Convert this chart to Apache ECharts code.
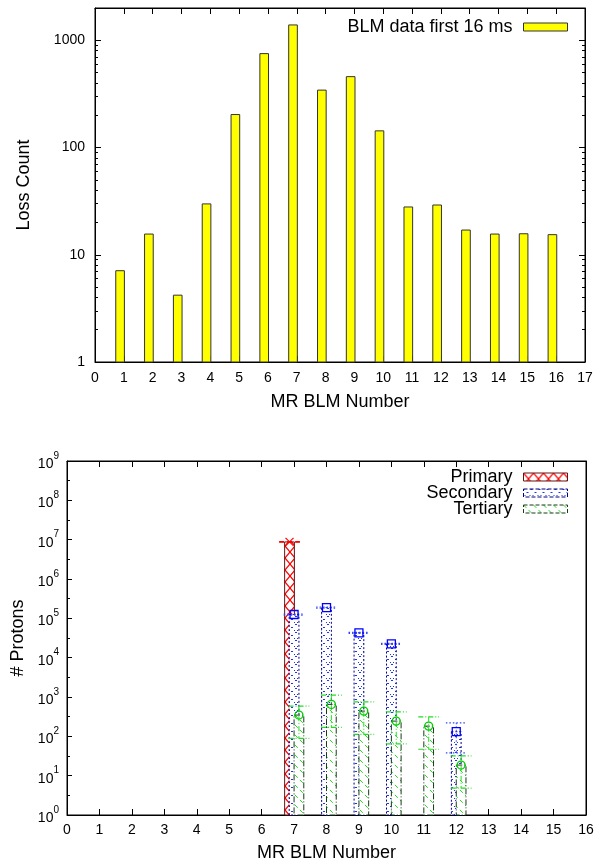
<!DOCTYPE html>
<html><head><meta charset="utf-8">
<script src="https://cdn.jsdelivr.net/npm/echarts@6/dist/echarts.min.js"></script>
<style>html,body{margin:0;padding:0;background:#fff}#c{width:602px;height:864px}</style>
</head><body><div id="c"></div>
<script>
// ---------- data: top chart ----------
const blmNumbers = [1,2,3,4,5,6,7,8,9,10,11,12,13,14,15,16];
const lossCounts = [7.1,15.6,4.2,29.8,203,751,1390,343,458,143,27.9,29.1,17.0,15.6,15.7,15.4];
const topLegendName = 'BLM data first 16 ms';
const topXTicks = [0,1,2,3,4,5,6,7,8,9,10,11,12,13,14,15,16,17];
const topYTicks = [1,10,100,1000];
const topYMinorTicks = [2,3,4,5,6,7,8,9,20,30,40,50,60,70,80,90,200,300,400,500,600,700,800,900];
const topXName = 'MR BLM Number';
const topYName = 'Loss Count';

// ---------- data: bottom chart ----------
const protonNames = ['Primary','Secondary','Tertiary'];
const primaryX = [7];
const primaryVal = [8.75e6];
const primaryUp = [8.9e6];
const primaryLow = [8.6e6];
const secondaryX = [7,8,9,10,12];
const secondaryVal = [1.25e5,1.88e5,4.27e4,2.24e4,131];
const secondaryUp = [1.29e5,1.94e5,4.4e4,2.31e4,221];
const secondaryLow = [1.21e5,1.82e5,4.14e4,2.17e4,38];
const tertiaryX = [7,8,9,10,11,12];
const tertiaryVal = [347,649,438,244,182,18.6];
const tertiaryUp = [585,1117,755,421,314,32];
const tertiaryLow = [89,169,112,64,47,4.8];
const bottomXTicks = [0,1,2,3,4,5,6,7,8,9,10,11,12,13,14,15,16];
const bottomYTicks = [1,1e1,1e2,1e3,1e4,1e5,1e6,1e7,1e8,1e9];
const bottomYMinorTicks = [3.1623,31.623,316.23,3162.3,31623,316230,3162300,31623000,316230000];
const bottomXName = 'MR BLM Number';
const bottomYName = '# Protons';

// ---------- styles ----------
const FONT = '"Liberation Sans", Arial, sans-serif';
function makeTile(w, h, draw) {
  const c = document.createElement('canvas');
  c.width = w; c.height = h;
  const ctx = c.getContext('2d');
  ctx.fillStyle = '#fff'; ctx.fillRect(0, 0, w, h);
  draw(ctx, w, h);
  return c;
}
const patPrimary = {image: makeTile(10, 12, (ctx, w, h) => {
  ctx.strokeStyle = '#ff0000'; ctx.lineWidth = 1.2;
  ctx.beginPath(); ctx.moveTo(0, 0); ctx.lineTo(w, h); ctx.moveTo(w, 0); ctx.lineTo(0, h); ctx.stroke();
}), repeat: 'repeat'};
const patSecondary = {image: makeTile(8, 8, (ctx, w, h) => {
  ctx.fillStyle = '#2233ee';
  for (let i = 0; i < 8; i += 3) { ctx.fillRect(i, i, 1, 1); ctx.fillRect(w - 1 - i, i, 1, 1); }
}), repeat: 'repeat'};
const patTertiary = {image: makeTile(10, 10, (ctx, w, h) => {
  ctx.strokeStyle = '#22dd22'; ctx.lineWidth = 1;
  ctx.setLineDash([4, 3]);
  ctx.beginPath(); ctx.moveTo(0, 0); ctx.lineTo(w, h); ctx.stroke();
}), repeat: 'repeat'};

const seriesStyles = [
  {fill: patPrimary, border: '#661111', borderDash: null, err: '#ff0000', errDash: [5, 3], marker: 'x', offset: -0.14},
  {fill: patSecondary, border: '#000080', borderDash: [2, 2], err: '#3344ff', errDash: [1.5, 2], marker: 'square', offset: 0.0},
  {fill: patTertiary, border: '#1a3a1a', borderDash: [6, 2, 1, 2], err: '#22dd22', errDash: [5, 2, 1, 2], marker: 'circle', offset: 0.15}
];
const BAR_W = 0.3;

function axisTickStyle(len) { return {show: true, inside: true, length: len, lineStyle: {color: '#000', width: 1}}; }
const labelStyle = {color: '#000', fontSize: 14, fontFamily: FONT};
const nameStyle = {color: '#000', fontSize: 18, fontFamily: FONT};

// ---------- top chart series ----------
const topSeries = {
  type: 'custom', name: topLegendName, xAxisIndex: 0, yAxisIndex: 0,
  data: blmNumbers.map((x, i) => [x, lossCounts[i]]),
  itemStyle: {color: '#ffff00', borderColor: '#333', borderWidth: 1},
  renderItem(params, api) {
    const x = api.value(0) - 0.13;
    const p0 = api.coord([x - 0.15, api.value(1)]);
    const p1 = api.coord([x + 0.15, topYTicks[0]]);
    return {type: 'rect', shape: {x: p0[0], y: p0[1], width: p1[0] - p0[0], height: p1[1] - p0[1]},
      style: {fill: '#ffff00', stroke: '#333', lineWidth: 1}};
  }
};

// ---------- bottom chart series ----------
function protonSeries(k, xs, vals, ups, lows) {
  const st = seriesStyles[k];
  return {
    type: 'custom', name: protonNames[k], xAxisIndex: 2, yAxisIndex: 4,
    data: xs.map((x, i) => [x, vals[i], ups[i], lows[i]]),
    itemStyle: {color: st.fill, borderColor: st.border, borderWidth: 1},
    z: 2 + k,
    renderItem(params, api) {
      const xc = api.value(0) + st.offset;
      const pTop = api.coord([xc - BAR_W / 2, api.value(1)]);
      const pBot = api.coord([xc + BAR_W / 2, bottomYTicks[0]]);
      const c = api.coord([xc, api.value(1)]);
      const up = api.coord([xc, api.value(2)])[1];
      const low = api.coord([xc, api.value(3)])[1];
      const capL = api.coord([xc - 0.32, 1])[0];
      const capR = api.coord([xc + 0.32, 1])[0];
      const children = [
        {type: 'rect', shape: {x: pTop[0], y: pTop[1], width: pBot[0] - pTop[0], height: pBot[1] - pTop[1]},
          style: {fill: st.fill, stroke: st.border, lineWidth: 1, lineDash: st.borderDash}},
        {type: 'line', shape: {x1: c[0], y1: up, x2: c[0], y2: low}, style: {stroke: st.err, lineWidth: 1, lineDash: st.errDash}},
        {type: 'line', shape: {x1: capL, y1: up, x2: capR, y2: up}, style: {stroke: st.err, lineWidth: 1.2, lineDash: st.errDash}},
        {type: 'line', shape: {x1: capL, y1: low, x2: capR, y2: low}, style: {stroke: st.err, lineWidth: 1.2, lineDash: st.errDash}}
      ];
      const s = 4;
      if (st.marker === 'x') {
        children.push({type: 'line', shape: {x1: c[0] - s, y1: c[1] - s, x2: c[0] + s, y2: c[1] + s}, style: {stroke: st.err, lineWidth: 1.2}});
        children.push({type: 'line', shape: {x1: c[0] - s, y1: c[1] + s, x2: c[0] + s, y2: c[1] - s}, style: {stroke: st.err, lineWidth: 1.2}});
      } else if (st.marker === 'square') {
        children.push({type: 'rect', shape: {x: c[0] - s, y: c[1] - s, width: 2 * s, height: 2 * s}, style: {fill: 'none', stroke: '#0000ff', lineWidth: 1.3}});
      } else {
        children.push({type: 'circle', shape: {cx: c[0], cy: c[1], r: s}, style: {fill: 'none', stroke: '#00cc00', lineWidth: 1.3}});
      }
      return {type: 'group', children};
    }
  };
}

function supLabel(v) {
  const n = Math.round(Math.log10(v));
  return '{b|10}{s|' + n + '}';
}
function plainLabel(v) { return String(Math.round(v)); }

const option = {
  animation: false,
  backgroundColor: '#fff',
  grid: [
    {left: 95, right: 17, top: 8, height: 354, show: true, borderColor: '#000', borderWidth: 1, backgroundColor: 'transparent'},
    {left: 67, right: 16, top: 461, height: 354, show: true, borderColor: '#000', borderWidth: 1, backgroundColor: 'transparent'}
  ],
  legend: [
    {data: [{name: topLegendName, icon: 'rect', itemStyle: {color: '#ffff00', borderColor: '#333', borderWidth: 1}}],
      right: 29, top: 13, align: 'right', orient: 'vertical', itemWidth: 44, itemHeight: 8, selectedMode: false,
      textStyle: {color: '#000', fontSize: 18, fontFamily: FONT, padding: [0, 6, 0, 0]}},
    {data: protonNames.map((n, k) => ({name: n, icon: 'rect', itemStyle: {color: seriesStyles[k].fill, borderColor: seriesStyles[k].border, borderWidth: 1, borderType: seriesStyles[k].borderDash ? 'dashed' : 'solid'}})),
      right: 29, top: 463, align: 'right', orient: 'vertical', itemWidth: 44, itemHeight: 8, itemGap: -2, selectedMode: false,
      textStyle: {color: '#000', fontSize: 18, fontFamily: FONT, lineHeight: 16, padding: [0, 6, 0, 0]}}
  ],
  xAxis: [
    {gridIndex: 0, type: 'value', position: 'bottom', min: 0, max: 17, interval: 1,
      name: topXName, nameLocation: 'middle', nameGap: 31, nameTextStyle: nameStyle,
      axisLine: {show: true, lineStyle: {color: '#000', width: 1}}, axisTick: axisTickStyle(6),
      axisLabel: Object.assign({margin: 9, customValues: topXTicks, formatter: plainLabel}, labelStyle), splitLine: {show: false}},
    {gridIndex: 0, type: 'value', position: 'top', min: 0, max: 17, interval: 1,
      axisLine: {show: true, lineStyle: {color: '#000', width: 1}}, axisTick: axisTickStyle(6),
      axisLabel: {show: false}, splitLine: {show: false}},
    {gridIndex: 1, type: 'value', position: 'bottom', min: 0, max: 16, interval: 1,
      name: bottomXName, nameLocation: 'middle', nameGap: 29, nameTextStyle: nameStyle,
      axisLine: {show: true, lineStyle: {color: '#000', width: 1}}, axisTick: axisTickStyle(6),
      axisLabel: Object.assign({margin: 8, customValues: bottomXTicks, formatter: plainLabel}, labelStyle), splitLine: {show: false}},
    {gridIndex: 1, type: 'value', position: 'top', min: 0, max: 16, interval: 1,
      axisLine: {show: true, lineStyle: {color: '#000', width: 1}}, axisTick: axisTickStyle(6),
      axisLabel: {show: false}, splitLine: {show: false}}
  ],
  yAxis: [
    {gridIndex: 0, type: 'log', position: 'left', min: 1, max: 2000,
      name: topYName, nameLocation: 'middle', nameGap: 62, nameRotate: 90, nameTextStyle: nameStyle,
      axisLine: {show: true, lineStyle: {color: '#000', width: 1}},
      axisTick: Object.assign(axisTickStyle(6), {customValues: topYTicks}),
      axisLabel: Object.assign({margin: 10, customValues: topYTicks, formatter: plainLabel}, labelStyle), splitLine: {show: false}},
    {gridIndex: 0, type: 'log', position: 'left', min: 1, max: 2000,
      axisLine: {show: false}, axisTick: Object.assign(axisTickStyle(3), {customValues: topYMinorTicks}),
      axisLabel: {show: false}, splitLine: {show: false}},
    {gridIndex: 0, type: 'log', position: 'right', min: 1, max: 2000,
      axisLine: {show: true, lineStyle: {color: '#000', width: 1}},
      axisTick: Object.assign(axisTickStyle(6), {customValues: topYTicks}),
      axisLabel: {show: false}, splitLine: {show: false}},
    {gridIndex: 0, type: 'log', position: 'right', min: 1, max: 2000,
      axisLine: {show: false}, axisTick: Object.assign(axisTickStyle(3), {customValues: topYMinorTicks}),
      axisLabel: {show: false}, splitLine: {show: false}},
    {gridIndex: 1, type: 'log', position: 'left', min: 1, max: 1e9,
      name: bottomYName, nameLocation: 'middle', nameGap: 35, nameRotate: 90, nameTextStyle: nameStyle,
      axisLine: {show: true, lineStyle: {color: '#000', width: 1}},
      axisTick: Object.assign(axisTickStyle(5), {customValues: bottomYTicks}),
      axisLabel: {margin: 8, customValues: bottomYTicks, formatter: supLabel,
        rich: {b: {fontSize: 14, fontFamily: FONT, color: '#000', lineHeight: 20, verticalAlign: 'bottom'},
               s: {fontSize: 10, fontFamily: FONT, color: '#000', verticalAlign: 'top', lineHeight: 20}}},
      splitLine: {show: false}},
    {gridIndex: 1, type: 'log', position: 'left', min: 1, max: 1e9,
      axisLine: {show: false}, axisTick: Object.assign(axisTickStyle(3), {customValues: bottomYMinorTicks}),
      axisLabel: {show: false}, splitLine: {show: false}},
    {gridIndex: 1, type: 'log', position: 'right', min: 1, max: 1e9,
      axisLine: {show: true, lineStyle: {color: '#000', width: 1}}, axisTick: {show: false},
      axisLabel: {show: false}, splitLine: {show: false}}
  ],
  series: [
    topSeries,
    protonSeries(0, primaryX, primaryVal, primaryUp, primaryLow),
    protonSeries(1, secondaryX, secondaryVal, secondaryUp, secondaryLow),
    protonSeries(2, tertiaryX, tertiaryVal, tertiaryUp, tertiaryLow)
  ]
};
const chart = echarts.init(document.getElementById('c'), null, {renderer: 'canvas'});
chart.setOption(option);
</script>
</body></html>
